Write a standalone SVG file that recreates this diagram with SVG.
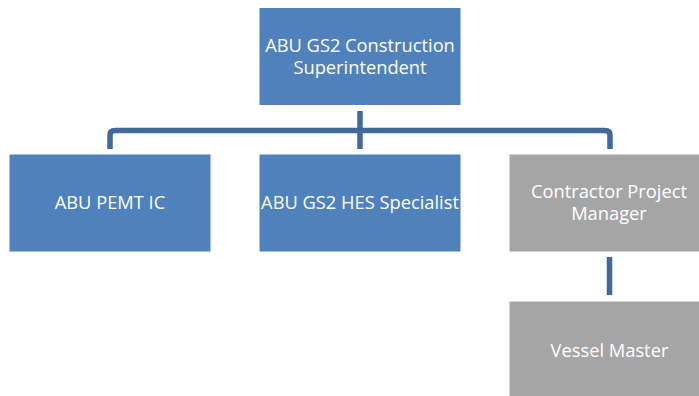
<svg xmlns="http://www.w3.org/2000/svg" width="699" height="396" viewBox="0 0 699 396">
<style>
.blue{fill:#4F81BD;stroke:#ffffff;stroke-width:1}
.gray{fill:#A5A5A5;stroke:#ffffff;stroke-width:1}
.lbl{font-family:"Open Sans","Liberation Sans",sans-serif;font-size:18.3px;fill:#ffffff;text-anchor:middle}
.conn{fill:none;stroke:#41699B;stroke-width:5.5}
</style>
<rect width="699" height="396" fill="#ffffff"/>
<g id="connectors">
<path class="conn" d="M110,149 V135 Q110,130.5 115,130.5 H605 Q610,130.5 610,135 V149"/>
<path class="conn" d="M360,111 V149"/>
<path class="conn" d="M609.5,257 V295"/>
</g>
<g id="node-superintendent">
<rect class="blue" x="259" y="7.5" width="202" height="98"/>
<text class="lbl" x="360" y="52">ABU GS2 Construction</text>
<text class="lbl" x="360" y="74">Superintendent</text>
</g>
<g id="node-pemt">
<rect class="blue" x="9" y="154" width="202" height="98"/>
<text class="lbl" x="110" y="209">ABU PEMT IC</text>
</g>
<g id="node-hes">
<rect class="blue" x="259" y="154" width="202" height="98"/>
<text class="lbl" x="360" y="209">ABU GS2 HES Specialist</text>
</g>
<g id="node-contractor">
<rect class="gray" x="509" y="154" width="202" height="98"/>
<text class="lbl" x="609" y="198">Contractor Project</text>
<text class="lbl" x="609" y="220">Manager</text>
</g>
<g id="node-vessel">
<rect class="gray" x="509" y="301" width="202" height="98"/>
<text class="lbl" x="609.5" y="357">Vessel Master</text>
</g>
</svg>
